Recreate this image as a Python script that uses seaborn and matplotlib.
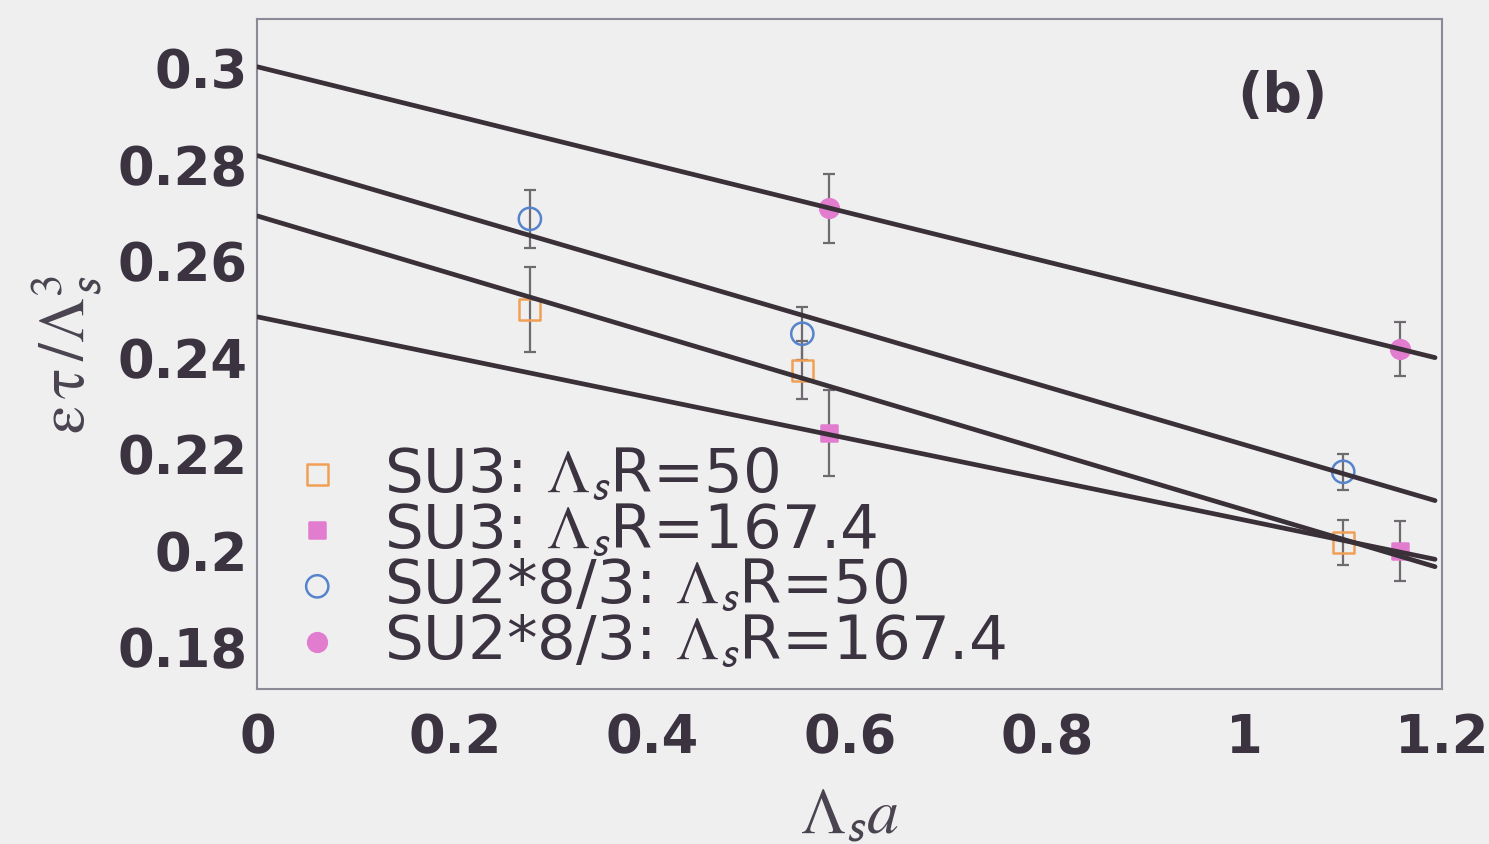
import matplotlib
matplotlib.use("Agg")
import matplotlib.pyplot as plt
from matplotlib.ticker import FixedLocator, MultipleLocator
import numpy as np
import pandas as pd
import seaborn as sns

# ---- measured energy density  eps*tau / Lambda_s^3  vs lattice spacing Lambda_s a ----
su3_r50_x = [0.276, 0.552, 1.100]
su3_r50_y = [0.2498, 0.2371, 0.2014]
su3_r50_err = [0.0088, 0.0060, 0.0047]

su3_r167_x = [0.579, 1.158]
su3_r167_y = [0.2242, 0.1997]
su3_r167_err = [0.0089, 0.0063]

su2_r50_x = [0.276, 0.552, 1.100]
su2_r50_y = [0.2685, 0.2447, 0.2161]
su2_r50_err = [0.0060, 0.0055, 0.0037]

su2_r167_x = [0.579, 1.158]
su2_r167_y = [0.2707, 0.2416]
su2_r167_err = [0.0071, 0.0056]

# linear continuum extrapolations (intercept at a = 0, slope)
fit_intercepts = [0.3000, 0.2816, 0.2691, 0.2482]
fit_slopes = [-0.0505, -0.0599, -0.0609, -0.0421]
fit_x_range = [0.0, 1.193]

series_labels = [
    r"SU3: $\Lambda_{\mathsf{s}}$R=50",
    r"SU3: $\Lambda_{\mathsf{s}}$R=167.4",
    r"SU2*8/3: $\Lambda_{\mathsf{s}}$R=50",
    r"SU2*8/3: $\Lambda_{\mathsf{s}}$R=167.4",
]

x_ticks = [0.0, 0.2, 0.4, 0.6, 0.8, 1.0, 1.2]
x_tick_labels = ["0", "0.2", "0.4", "0.6", "0.8", "1", "1.2"]
y_ticks = [0.18, 0.20, 0.22, 0.24, 0.26, 0.28, 0.30]
y_tick_labels = ["0.18", "0.2", "0.22", "0.24", "0.26", "0.28", "0.3"]

# ---- styling ----
bg = "#efeff0"
ink = "#3b3340"
frame = "#8c8a94"
fit_color = "#3a3038"
err_color = "#6e6a70"
orange = "#f0a055"
pink = "#e27ccf"
blue = "#5584cc"

sns.set_theme(style="white", rc={
    "figure.facecolor": bg,
    "axes.facecolor": bg,
    "axes.edgecolor": frame,
    "axes.linewidth": 1.5,
    "mathtext.fontset": "stix",
})
plt.rcParams["font.family"] = ["DejaVu Sans"]

fig = plt.figure(figsize=(14.89, 8.45), dpi=100)
ax = fig.add_axes([0.1729, 0.1834, 0.9684 - 0.1729, 0.9763 - 0.1834])

series = [
    (su3_r50_x, su3_r50_y, su3_r50_err, "s", orange, False, 15.0),
    (su3_r167_x, su3_r167_y, su3_r167_err, "s", pink, True, 12.0),
    (su2_r50_x, su2_r50_y, su2_r50_err, "o", blue, False, 16.0),
    (su2_r167_x, su2_r167_y, su2_r167_err, "o", pink, True, 13.5),
]

handles = []
for (xs, ys, es, mk, col, filled, msize), lab in zip(series, series_labels):
    ax.errorbar(xs, ys, yerr=es, fmt="none", ecolor=err_color,
                elinewidth=1.6, capsize=4.5, capthick=1.6, zorder=2)
    df = pd.DataFrame({"x": xs, "y": ys})
    n_before = len(ax.collections)
    sns.scatterplot(data=df, x="x", y="y", marker=mk, s=msize ** 2,
                    color=col, linewidth=1.8, ax=ax, zorder=3, label=lab,
                    legend=False)
    pc = ax.collections[n_before]
    if filled:
        pc.set_facecolor(col)
        pc.set_edgecolor(col)
    else:
        pc.set_facecolor("none")
        pc.set_edgecolor(col)
    pc.set_label(lab)
    handles.append(pc)

# continuum fit lines
for b0, b1 in zip(fit_intercepts, fit_slopes):
    xs = np.array(fit_x_range)
    line_df = pd.DataFrame({"x": xs, "y": b0 + b1 * xs})
    sns.lineplot(data=line_df, x="x", y="y", color=fit_color, linewidth=3.4,
                 ax=ax, zorder=4, legend=False)

ax.set_xlim(0.0, 1.2)
ax.set_ylim(0.1711, 0.3099)

ax.xaxis.set_major_locator(FixedLocator(x_ticks))
ax.set_xticklabels(x_tick_labels)
ax.yaxis.set_major_locator(FixedLocator(y_ticks))
ax.set_yticklabels(y_tick_labels)
ax.xaxis.set_minor_locator(MultipleLocator(0.05))
ax.yaxis.set_minor_locator(MultipleLocator(0.005))

ax.tick_params(axis="both", which="both", direction="in", top=False,
               right=False, colors=frame, labelcolor=ink, width=1.4)
ax.tick_params(axis="y", which="major", length=24, pad=7)
ax.tick_params(axis="y", which="minor", length=11.5)
ax.tick_params(axis="x", which="major", length=13, pad=16)
ax.tick_params(axis="x", which="minor", length=6.5)
for lbl in ax.get_xticklabels() + ax.get_yticklabels():
    lbl.set_fontsize(38)
    lbl.set_fontweight("bold")

for sp in ax.spines.values():
    sp.set_visible(True)
    sp.set_color(frame)
    sp.set_linewidth(1.5)

ax.set_xlabel(r"$\mathrm{\Lambda}_{\mathsf{s}}a$", fontsize=46,
              color="#4a4450", labelpad=14)
ax.set_ylabel(r"$\mathrm{\varepsilon\,\tau\,/\Lambda}_{\mathsf{s}}^{3}$",
              fontsize=46, color="#4a4450", labelpad=10)

ax.text(0.865, 0.885, "(b)", transform=ax.transAxes, fontsize=40,
        fontweight="bold", color=ink, ha="center", va="center")

leg = ax.legend(handles=handles, labels=series_labels, loc="upper left",
                bbox_to_anchor=(0.035, 0.365), frameon=False, fontsize=44,
                handlelength=0.6, handletextpad=0.8, labelspacing=-0.05,
                borderpad=0.0, borderaxespad=0.0)
for t in leg.get_texts():
    t.set_color(ink)

fig.savefig("out.png", dpi=100, facecolor=bg)
